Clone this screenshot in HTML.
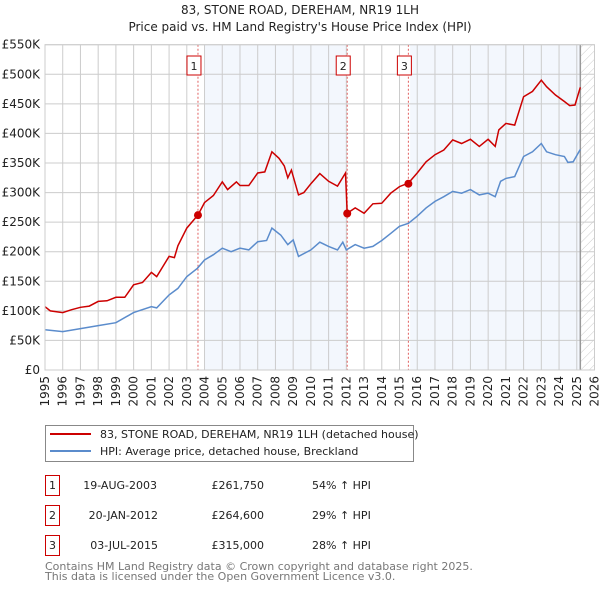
<!DOCTYPE html>
<html><head><meta charset="utf-8"><style>
body{margin:0;background:#fff;font-family:"Liberation Sans","DejaVu Sans",sans-serif;}
svg text{font-family:"DejaVu Sans","Liberation Sans",sans-serif;}
</style></head><body>
<svg id="c" width="600" height="590" xmlns="http://www.w3.org/2000/svg">
<defs><pattern id="hatch" width="6" height="6" patternUnits="userSpaceOnUse" patternTransform="rotate(45)"><line x1="0" y1="0" x2="0" y2="6" stroke="#ccc" stroke-width="1"/></pattern></defs>
<text x="300" y="14" text-anchor="middle" font-size="12" fill="#222">83, STONE ROAD, DEREHAM, NR19 1LH</text>
<text x="300" y="31" text-anchor="middle" font-size="12" fill="#222">Price paid vs. HM Land Registry's House Price Index (HPI)</text>
<g id="plot"></g>
<g>
<rect x="45.5" y="425.5" width="368" height="36" fill="#fff" stroke="#888"/>
<line x1="50" y1="434" x2="91" y2="434" stroke="#cc0000" stroke-width="2"/>
<text x="100" y="438" font-size="11" fill="#222">83, STONE ROAD, DEREHAM, NR19 1LH (detached house)</text>
<line x1="50" y1="451" x2="91" y2="451" stroke="#5b8ccc" stroke-width="2"/>
<text x="100" y="455" font-size="11" fill="#222">HPI: Average price, detached house, Breckland</text>
</g>
<g font-size="11" fill="#222">
<rect x="45.5" y="475.5" width="14" height="20" fill="#fff" stroke="#cc0000"/><text x="52.5" y="489" text-anchor="middle">1</text>
<text x="157" y="489" text-anchor="end">19-AUG-2003</text><text x="264" y="489" text-anchor="end">£261,750</text><text x="312" y="489">54% ↑ HPI</text>
<rect x="45.5" y="505.5" width="14" height="20" fill="#fff" stroke="#cc0000"/><text x="52.5" y="519" text-anchor="middle">2</text>
<text x="158" y="519" text-anchor="end">20-JAN-2012</text><text x="264" y="519" text-anchor="end">£264,600</text><text x="312" y="519">29% ↑ HPI</text>
<rect x="45.5" y="535.5" width="14" height="20" fill="#fff" stroke="#cc0000"/><text x="52.5" y="549" text-anchor="middle">3</text>
<text x="158" y="549" text-anchor="end">03-JUL-2015</text><text x="264" y="549" text-anchor="end">£315,000</text><text x="312" y="549">28% ↑ HPI</text>
</g>
<text x="45" y="570" font-size="11" fill="#777">Contains HM Land Registry data © Crown copyright and database right 2025.</text>
<text x="45" y="580" font-size="11" fill="#777">This data is licensed under the Open Government Licence v3.0.</text>
</svg>
<script>
const hpiYears=[1995,1996,1997,1998,1999,2000,2001,2001.3,2002,2002.5,2003,2003.6,2004,2004.5,2005,2005.5,2006,2006.5,2007,2007.5,2007.8,2008.3,2008.7,2009,2009.3,2010,2010.5,2011,2011.5,2011.8,2012,2012.5,2013,2013.5,2014,2014.5,2015,2015.5,2016,2016.5,2017,2017.5,2018,2018.5,2019,2019.5,2020,2020.4,2020.7,2021,2021.5,2022,2022.5,2023,2023.3,2023.8,2024.3,2024.5,2024.8,2025.2];
const hpiValues=[68,65,70,75,80,97,107,105,127,138,158,172,186,195,206,200,206,203,217,219,240,228,212,220,192,203,216,209,203,216,203,212,206,209,219,231,243,248,260,274,285,293,302,299,305,296,299,293,319,324,327,361,369,383,369,364,361,351,352,373];
const priceYears=[1995,1995.3,1996,1996.5,1997,1997.5,1998,1998.5,1999,1999.5,2000,2000.5,2001,2001.3,2002,2002.3,2002.5,2003,2003.63,2004,2004.5,2005,2005.3,2005.8,2006,2006.5,2007,2007.4,2007.8,2008.2,2008.5,2008.7,2008.9,2009.3,2009.6,2010,2010.5,2011,2011.5,2011.95,2012.05,2012.5,2013,2013.5,2014,2014.5,2015,2015.5,2016,2016.5,2017,2017.5,2018,2018.5,2019,2019.5,2020,2020.4,2020.6,2021,2021.5,2022,2022.5,2023,2023.3,2023.8,2024.3,2024.6,2024.9,2025.2];
const priceValues=[107,100,97,102,106,108,116,117,123,123,144,148,165,158,192,190,210,240,262,283,295,318,305,318,312,312,333,335,369,358,345,325,338,296,300,315,332,319,311,333,265,274,265,281,282,299,310,316,333,352,364,372,389,383,390,378,390,378,406,417,414,462,471,490,479,465,454,447,448,478];
const saleLabels=["1","2","3"];
const saleYears=[2003.63,2012.05,2015.5];
const saleValues=[261.75,264.6,315];
const yTicks=[0,50,100,150,200,250,300,350,400,450,500,550];
const yTickLabels=["£0","£50K","£100K","£150K","£200K","£250K","£300K","£350K","£400K","£450K","£500K","£550K"];
const xTicks=[1995,1996,1997,1998,1999,2000,2001,2002,2003,2004,2005,2006,2007,2008,2009,2010,2011,2012,2013,2014,2015,2016,2017,2018,2019,2020,2021,2022,2023,2024,2025,2026];

const X0=45,X1=594.5,Y0=370,Y1=44.7;
const xs=y=>X0+(y-1995)/(2026-1995)*(X1-X0);
const ys=v=>Y0-v/550*(Y0-Y1);
const NS="http://www.w3.org/2000/svg";
const g=document.getElementById('plot');
function mk(t,a,p){const e=document.createElementNS(NS,t);for(const k in a)e.setAttribute(k,a[k]);(p||g).appendChild(e);return e;}
// shaded bands
let b1=mk('rect',{x:xs(2004),y:Y1,width:xs(2012)-xs(2004),height:Y0-Y1,fill:'#eef3fc',opacity:0.7});


let b2=mk('rect',{x:xs(2015.6),y:Y1,width:xs(2025.2)-xs(2015.6),height:Y0-Y1,fill:'#eef3fc',opacity:0.7});


let hz=mk('rect',{x:xs(2025.2),y:Y1,width:X1-xs(2025.2),height:Y0-Y1,fill:'url(#hatch)'});


// grid
yTicks.forEach((v,i)=>{
 let l=mk('line',{x1:X0,x2:X1,y1:ys(v),y2:ys(v),stroke:'#ccc','stroke-width':1});
 
 
 let t=mk('text',{x:X0-5,y:ys(v)+4,'text-anchor':'end','font-size':12,fill:'#222'});
 
 
 t.textContent=yTickLabels[i];
});
xTicks.forEach(yr=>{
 let l=mk('line',{x1:xs(yr),x2:xs(yr),y1:Y1,y2:Y0,stroke:'#ccc','stroke-width':1});
 
 
 let t=mk('text',{transform:`translate(${xs(yr)+4},${Y0+6}) rotate(-90)`,'text-anchor':'end','font-size':12,fill:'#222'});
 
 
 t.textContent=yr;
});
let vl=mk('line',{x1:xs(2025.2),x2:xs(2025.2),y1:Y1,y2:Y0,stroke:'#999','stroke-width':1.5});


// sale markers lines
saleYears.forEach((yr,i)=>{
 let l=mk('line',{x1:xs(yr),x2:xs(yr),y1:Y1,y2:Y0,stroke:'#e06060','stroke-width':1,'stroke-dasharray':'2,2'});
 
 
 let r=mk('rect',{x:xs(yr)-11,y:56,width:14,height:19,fill:'#fff',stroke:'#cc0000'});
 
 
 let t=mk('text',{x:xs(yr)-4,y:70,'text-anchor':'middle','font-size':11,fill:'#222'});
 
 
 t.textContent=saleLabels[i];
});
function path(xa,va){return xa.map((x,i)=>(i?'L':'M')+xs(x).toFixed(1)+','+ys(va[i]).toFixed(1)).join('');}
let hp=mk('path',{d:path(hpiYears,hpiValues),fill:'none',stroke:'#5b8ccc','stroke-width':1.5});


let pp=mk('path',{d:path(priceYears,priceValues),fill:'none',stroke:'#cc0000','stroke-width':1.5});


saleYears.forEach((yr,i)=>{
 let c=mk('circle',{cx:xs(yr),cy:ys(saleValues[i]),r:4,fill:'#cc0000'});
 
 
});
let ax=mk('rect',{x:X0,y:Y1,width:X1-X0,height:Y0-Y1,fill:'none',stroke:'#ccc'});


</script>
</body></html>
